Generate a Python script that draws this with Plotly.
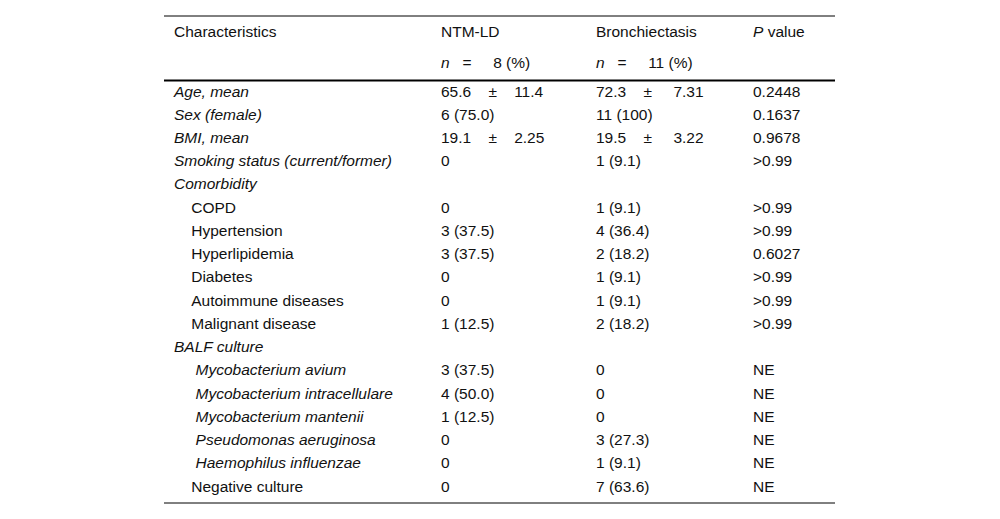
import plotly.graph_objects as go

NB = "\u00a0"


def sp(n):
    return NB * n


# table content, one list per column
header_top = ["Characteristics", "NTM-LD", "Bronchiectasis", "<i>P</i> value"]
header_n = ["",
            "<i>n</i>" + sp(3) + "=" + sp(5) + "8 (%)",
            "<i>n</i>" + sp(3) + "=" + sp(5) + "11 (%)",
            ""]

characteristics = [
    "<i>Age, mean</i>",
    "<i>Sex (female)</i>",
    "<i>BMI, mean</i>",
    "<i>Smoking status (current/former)</i>",
    "<i>Comorbidity</i>",
    sp(4) + "COPD",
    sp(4) + "Hypertension",
    sp(4) + "Hyperlipidemia",
    sp(4) + "Diabetes",
    sp(4) + "Autoimmune diseases",
    sp(4) + "Malignant disease",
    "<i>BALF culture</i>",
    sp(5) + "<i>Mycobacterium avium</i>",
    sp(5) + "<i>Mycobacterium intracellulare</i>",
    sp(5) + "<i>Mycobacterium mantenii</i>",
    sp(5) + "<i>Pseudomonas aeruginosa</i>",
    sp(5) + "<i>Haemophilus influenzae</i>",
    sp(4) + "Negative culture",
]
ntm_ld = ["65.6" + sp(4) + "\u00b1" + sp(4) + "11.4", "6 (75.0)",
          "19.1" + sp(4) + "\u00b1" + sp(4) + "2.25", "0", "",
          "0", "3 (37.5)", "3 (37.5)", "0", "0", "1 (12.5)", "",
          "3 (37.5)", "4 (50.0)", "1 (12.5)", "0", "0", "0"]
bronchiectasis = ["72.3" + sp(4) + "\u00b1" + sp(5) + "7.31", "11 (100)",
                  "19.5" + sp(4) + "\u00b1" + sp(5) + "3.22", "1 (9.1)", "",
                  "1 (9.1)", "4 (36.4)", "2 (18.2)", "1 (9.1)", "1 (9.1)", "2 (18.2)", "",
                  "0", "0", "0", "3 (27.3)", "1 (9.1)", "7 (63.6)"]
p_value = ["0.2448", "0.1637", "0.9678", ">0.99", "",
           ">0.99", ">0.99", "0.6027", ">0.99", ">0.99", ">0.99", "",
           "NE", "NE", "NE", "NE", "NE", "NE"]

columns = [characteristics, ntm_ld, bronchiectasis, p_value]
rows = list(range(len(characteristics)))

# layout constants (x in px from the table's left edge, y in row units)
col_x = [10, 277, 432, 589]
header_y = [-2.58, -1.25]
header_rule_y = -0.52
table_top, table_bottom = -3.30, 17.66

font = dict(family="Liberation Sans, Arial, sans-serif", size=15.5, color="#111111")

fig = go.Figure()
for cx, top, n_label, col in zip(col_x, header_top, header_n, columns):
    fig.add_trace(go.Scatter(
        x=[cx] * (len(col) + 2),
        y=header_y + rows,
        text=[top, n_label] + col,
        mode="text",
        textposition="middle right",
        textfont=font,
        hoverinfo="skip",
        showlegend=False,
    ))

fig.update_xaxes(range=[0, 671], visible=False, fixedrange=True)
fig.update_yaxes(range=[table_bottom, table_top], visible=False, fixedrange=True)

fig.update_layout(
    width=1000, height=519,
    # the page body adds 8px on the left and top
    margin=dict(l=156, r=173, t=8, b=24),
    paper_bgcolor="white",
    plot_bgcolor="white",
    shapes=[
        dict(type="line", xref="paper", yref="paper", x0=0, x1=1, y0=1, y1=1,
             line=dict(color="black", width=1)),
        dict(type="line", xref="paper", yref="y", x0=0, x1=1,
             y0=header_rule_y, y1=header_rule_y, line=dict(color="black", width=2)),
        dict(type="line", xref="paper", yref="paper", x0=0, x1=1, y0=0, y1=0,
             line=dict(color="black", width=1)),
    ],
)

fig.write_html("out.html")
